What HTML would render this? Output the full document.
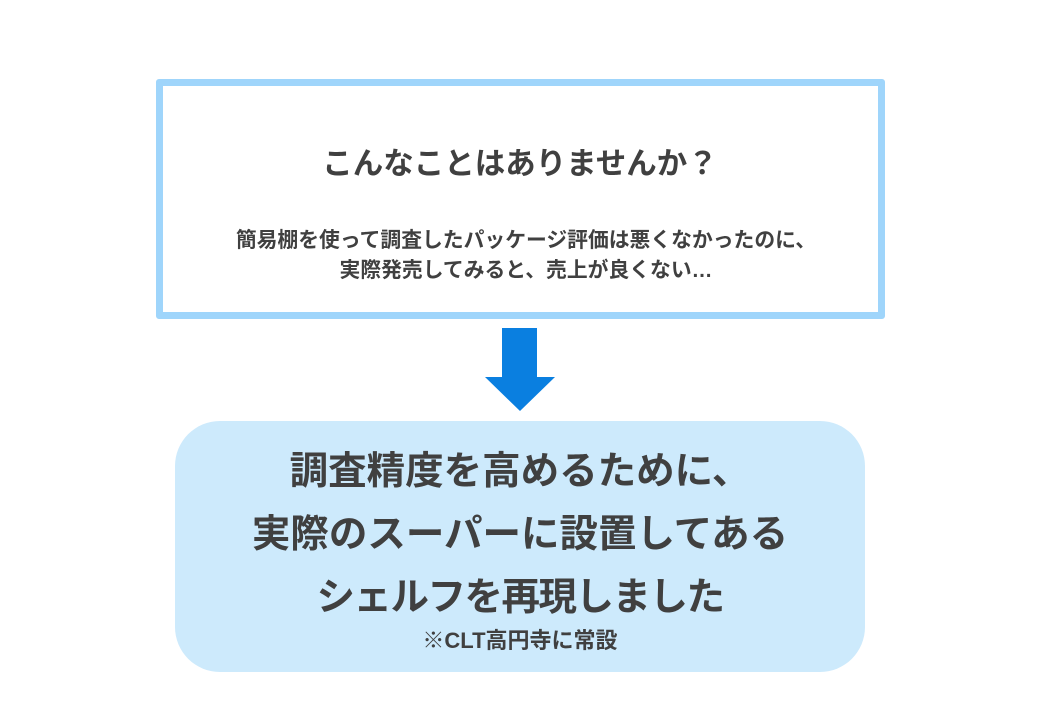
<!DOCTYPE html>
<html><head><meta charset="utf-8"><style>
body{margin:0;width:1040px;height:720px;background:#fff;position:relative;overflow:hidden;font-family:"Liberation Sans","Noto Sans CJK JP",sans-serif;font-weight:bold;color:#404040}
.box{position:absolute;left:156px;top:79px;width:715px;height:226px;border:7px solid #9fd5fb;border-radius:3px}
.t{position:absolute;left:0;width:1040px;text-align:center;white-space:nowrap}
.shaft{position:absolute;left:502px;top:328px;width:35px;height:50px;background:#0a7fe0}
.head{position:absolute;left:485px;top:377px;width:0;height:0;border-left:35px solid transparent;border-right:35px solid transparent;border-top:34px solid #0a7fe0}
.rbox{position:absolute;left:175px;top:421px;width:690px;height:251px;background:#cdeafc;border-radius:45px}
</style></head><body>
<div class="box"></div>
<div class="t" style="top:139px;font-size:30.5px">こんなことはありませんか？</div>
<div class="t" style="top:226px;font-size:20.8px;line-height:30px;padding-left:6px">簡易棚を使って調査したパッケージ評価は悪くなかったのに、<br>実際発売してみると、売上が良くない…</div>
<div class="shaft"></div><div class="head"></div>
<div class="rbox"></div>
<div class="t" style="top:440px;font-size:38.5px;line-height:63px">調査精度を高めるために、<br>実際のスーパーに設置してある<br><span style="letter-spacing:-1.5px">シェルフを再現しました</span></div>
<div class="t" style="top:623px;font-size:22px">※CLT高円寺に常設</div>
</body></html>
